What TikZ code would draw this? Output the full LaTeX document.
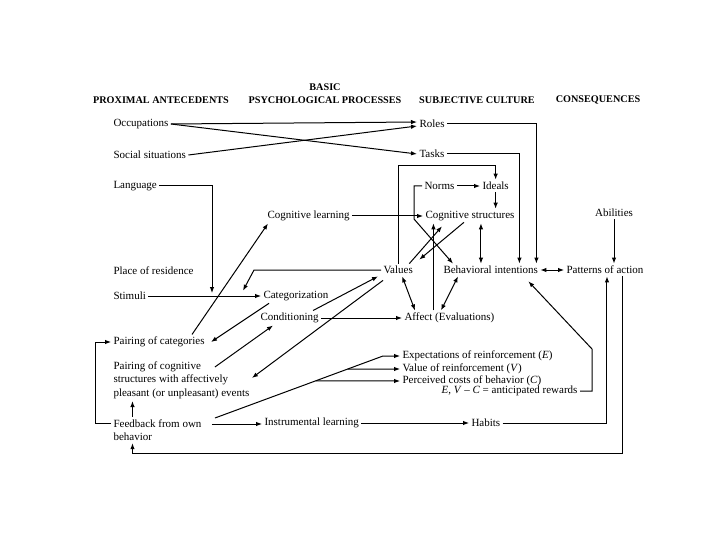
\documentclass[tikz,border=0pt]{standalone}
\usepackage{fontspec}
\setmainfont{Liberation Serif}
\usetikzlibrary{arrows.meta, positioning, calc}

\begin{document}
\begin{tikzpicture}[x=1pt, y=-1pt,
    lbl/.style={anchor=west, inner sep=1pt, outer sep=1.5pt, font=\fontsize{11}{13.5}\selectfont},
    hd/.style={inner sep=1pt, font=\fontsize{10.2}{12}\selectfont\bfseries},
    arr/.style={-{Latex[length=6pt,width=4.5pt]}, line width=1pt},
    dbl/.style={{Latex[length=6pt,width=4.5pt]}-{Latex[length=6pt,width=4.5pt]}, line width=1pt}]
      \useasboundingbox (0,0) rectangle (720,540);

      % Column heads
      \node[hd] (hbasic) at (325,87) {BASIC};
      \node[hd] (hprox) at (161,100) {PROXIMAL ANTECEDENTS};
      \node[hd] (hpsy) at (325,100) {PSYCHOLOGICAL PROCESSES};
      \node[hd] (hsub) at (477,100) {SUBJECTIVE CULTURE};
      \node[hd] (hcons) at (598,100) {CONSEQUENCES};

      % Proximal antecedents
      \node[lbl] (occ) at (111,124) {Occupations};
      \node[lbl] (soc) at (111,155) {Social situations};
      \node[lbl] (lang) at (111,186) {Language};
      \node[lbl] (res) at (111,271) {Place of residence};
      \node[lbl] (stim) at (111,296) {Stimuli};
      \node[lbl] (paircat) at (111,342) {Pairing of categories};
      \node[lbl, align=left] (paircog) at (111,380) {Pairing of cognitive\\structures with affectively\\pleasant (or unpleasant) events};
      \node[lbl, align=left] (feed) at (111,430) {Feedback from own\\behavior};

      % Basic psychological processes
      \node[lbl] (coglearn) at (265,216) {Cognitive learning};
      \node[lbl] (categ) at (261,296) {Categorization};
      \node[lbl] (cond) at (258,318) {Conditioning};
      \node[lbl] (instr) at (262,423) {Instrumental learning};

      % Subjective culture
      \node[lbl] (roles) at (417,124) {Roles};
      \node[lbl] (tasks) at (417,154) {Tasks};
      \node[lbl] (norms) at (422,186) {Norms};
      \node[lbl] (ideals) at (480,186) {Ideals};
      \node[lbl] (cogstr) at (423,216) {Cognitive structures};
      \node[lbl] (values) at (381,270) {Values};
      \node[lbl] (behint) at (441,270) {Behavioral intentions};
      \node[lbl] (affect) at (402,318) {Affect (Evaluations)};
      \node[lbl] (expect) at (400,356) {Expectations of reinforcement (\textit{E})};
      \node[lbl] (valre) at (400,369) {Value of reinforcement (\textit{V})};
      \node[lbl] (costs) at (400,381) {Perceived costs of behavior (\textit{C})};
      \node[lbl, anchor=east] (antic) at (580,391) {\textit{E}, \textit{V} -- \textit{C} = anticipated rewards};
      \node[lbl] (habits) at (469,423) {Habits};

      % Consequences
      \node[lbl, anchor=center] (abil) at (614,213) {Abilities};
      \node[lbl] (patt) at (564,270) {Patterns of action};

      % Antecedents to roles and tasks
      \draw[arr] (occ.east) -- ([yshift=2pt]roles.west);
      \draw[arr] (occ.east) -- (tasks.west);
      \draw[arr] (soc.east) -- ([yshift=-2pt]roles.west);
      \draw[arr] (roles.east) -| ([xshift=-4pt]behint.north east);
      \draw[arr] (tasks.east) -| ([xshift=-21pt]behint.north east);

      % Norms, ideals, cognitive structures
      \draw[arr] (values.north) |- ([yshift=14pt]ideals.north) -- (ideals.north);
      \draw[arr] (norms.west) -- ++(-8,0) -- ++(0,33) -- ([xshift=12pt]behint.north west);
      \draw[arr] (norms.east) -- (ideals.west);
      \draw[arr] (ideals.south) -- (ideals.south |- cogstr.north);
      \draw[arr] (coglearn.east) -- (cogstr.west);
      \draw[dbl] ([xshift=11pt]cogstr.south) -- ([xshift=11pt]cogstr.south |- behint.north);
      \draw[arr] ([xshift=-16pt]affect.north) -- ([xshift=-16pt]affect.north |- cogstr.south);
      \draw[arr] ([xshift=-6pt]values.north east) -- ([xshift=19pt,yshift=-3pt]cogstr.south west);
      \draw[arr] ([xshift=-6pt,yshift=1pt]cogstr.south) -- ([xshift=4pt,yshift=4pt]values.north east);
      \draw[dbl] ([xshift=4pt]values.south) -- ([xshift=13pt]affect.north west);
      \draw[dbl] ([xshift=17pt]behint.south west) -- ([xshift=39pt]affect.north west);
      \draw[dbl] (behint.east) -- (patt.west);
      \draw[arr] (abil.south) -- (abil.south |- patt.north);

      % Processes
      \draw[arr] (values.west) -- ++(-127,0) -- ([xshift=-18pt,yshift=-2pt]categ.north west);
      \draw[arr] (lang.east) -| ([xshift=-49pt,yshift=3pt]categ.west);
      \draw[arr] (stim.east) -- (categ.west);
      \draw[arr] ([xshift=-15pt]paircat.north east) -- ([xshift=3pt]coglearn.south west);
      \draw[arr] ([xshift=8pt]categ.south west) -- ([xshift=4pt]paircat.east);
      \draw[arr] ([xshift=-8pt]cond.north east) -- ([xshift=-3pt]values.south west);
      \draw[arr] ([xshift=2pt,yshift=-4pt]values.south west) -- ([yshift=2pt]paircog.east);
      \draw[arr] ([xshift=-37pt,yshift=13pt]paircog.east) -- ([xshift=15pt]cond.south west);
      \draw[arr] (cond.east) -- (affect.west);

      % Feedback and reinforcement
      \coordinate (fb) at ([xshift=11pt,yshift=12pt]feed.east);
      \coordinate (fe) at ([xshift=-17pt]expect.west);
      \draw[arr] (fb) -- (fe) -- (expect.west);
      \draw[arr] ($(fb)!0.79!(fe)$) -- (valre.west);
      \draw[arr] ($(fb)!0.6!(fe)$) -- (costs.west);
      \draw[arr] ([xshift=8pt,yshift=6pt]feed.east) -- ([yshift=6pt]feed.east -| instr.west);
      \draw[arr] (instr.east) -- (habits.west);
      \draw[arr] (habits.east) -| ([xshift=2pt]patt.south);
      \draw[arr] ([xshift=18pt]patt.south) |- ([xshift=-25pt,yshift=-10pt]feed.south) -- ([xshift=-25pt]feed.south);
      \draw[arr] (antic.east) -- ++(12,0) -- ++(0,-42) -- ([xshift=-12pt,yshift=-5pt]behint.south east);
      \draw[arr] ([yshift=7pt]feed.west) -- ++(-16,0) |- (paircat.west);
      \draw[arr] ([xshift=-25pt]feed.north) -- ([xshift=-25pt]feed.north |- paircog.south);
    \end{tikzpicture}
\end{document}
